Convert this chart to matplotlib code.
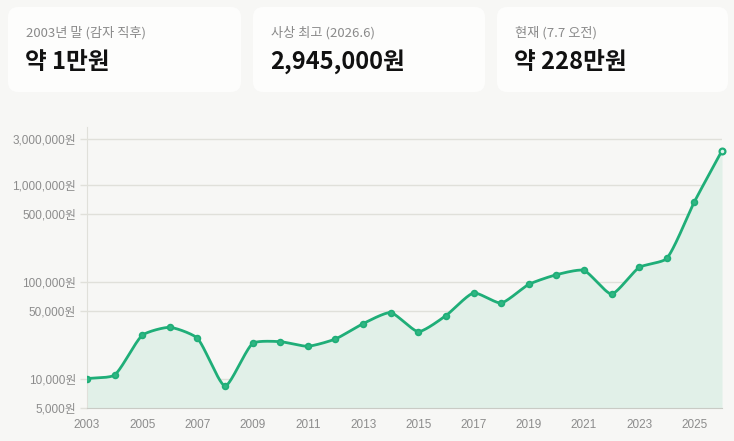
import numpy as np
import matplotlib
matplotlib.use("Agg")
import matplotlib.pyplot as plt
from matplotlib.patches import FancyBboxPatch
from matplotlib.ticker import FixedLocator, FixedFormatter, NullLocator

plt.rcParams['font.family'] = ['Liberation Sans', 'Noto Sans CJK KR', 'DejaVu Sans']

# ---- data ----
years = list(range(2003, 2027))
prices = [10000, 10900, 28000, 33900, 26100, 8400, 23100, 24100, 21600, 25700,
          37000, 48100, 30600, 44800, 76800, 60500, 94200, 118600, 131400, 75000,
          141200, 174900, 674000, 2280000]
ytick_vals = [5000, 10000, 50000, 100000, 500000, 1000000, 3000000]
ytick_labels = [f"{v:,}원" for v in ytick_vals]
xtick_vals = list(range(2003, 2027, 2))
card_labels = ["2003년 말 (감자 직후)", "사상 최고 (2026.6)", "현재 (7.7 오전)"]
card_values = ["약 1만원", "2,945,000원", "약 228만원"]

BG = "#f7f7f5"
GREEN = "#1fae78"
FILL = "#e1f0e8"
GRID = "#e0e0da"
TICK = "#8c8c8c"

W, H = 734, 441
fig = plt.figure(figsize=(W / 100, H / 100), dpi=100, facecolor=BG)

# ---- cards ----
card_x = [(8, 241), (253, 485), (497, 728)]
card_y = (7, 92)
for (x0, x1), lab, val in zip(card_x, card_labels, card_values):
    box = FancyBboxPatch((x0 / W, 1 - card_y[1] / H), (x1 - x0) / W, (card_y[1] - card_y[0]) / H,
                         boxstyle="round,pad=0,rounding_size=0.014", transform=fig.transFigure,
                         facecolor="#fdfdfc", edgecolor="none", mutation_aspect=W / H)
    fig.patches.append(box)
    fig.text((x0 + 18) / W, 1 - 33 / H, lab, fontsize=9.5, color="#8a8a8a",
             family=['Noto Sans CJK KR', 'DejaVu Sans'], va="center", ha="left", fontweight="medium")
    fig.text((x0 + 17) / W, 1 - 62 / H, val, fontsize=17, color="#111111",
             family=['Noto Sans CJK KR', 'DejaVu Sans'], va="center", ha="left", fontweight="bold")

# ---- chart ----
left, right, top, bottom = 87, 722, 127, 407.7
ax = fig.add_axes([left / W, 1 - bottom / H, (right - left) / W, (bottom - top) / H])
ax.set_facecolor(BG)
ax.set_yscale("log")
ax.set_xlim(2003, 2026)
ax.set_ylim(5000, 4.0e6)

# Chart.js-like spline in display space
pts = ax.transData.transform(np.column_stack([years, prices]))
tension = 0.2
n = len(pts)
cp_prev = np.zeros_like(pts)
cp_next = np.zeros_like(pts)
for i in range(n):
    p0 = pts[i - 1] if i > 0 else pts[i]
    p1 = pts[i]
    p2 = pts[i + 1] if i < n - 1 else pts[i]
    d01 = np.hypot(*(p1 - p0))
    d12 = np.hypot(*(p2 - p1))
    s = d01 + d12
    s01 = d01 / s if s else 0
    s12 = d12 / s if s else 0
    cp_prev[i] = p1 - tension * s01 * (p2 - p0)
    cp_next[i] = p1 + tension * s12 * (p2 - p0)
curve = []
t = np.linspace(0, 1, 40)[:, None]
for i in range(n - 1):
    a, b, c, d = pts[i], cp_next[i], cp_prev[i + 1], pts[i + 1]
    seg = (1 - t) ** 3 * a + 3 * (1 - t) ** 2 * t * b + 3 * (1 - t) * t ** 2 * c + t ** 3 * d
    curve.append(seg if i == 0 else seg[1:])
curve = np.vstack(curve)
curve_data = ax.transData.inverted().transform(curve)

ax.fill_between(curve_data[:, 0], curve_data[:, 1], 5000, color=FILL, linewidth=0, zorder=1)
ax.plot(curve_data[:, 0], curve_data[:, 1], color=GREEN, linewidth=2, zorder=3, solid_capstyle="round")
ax.plot(years[:-1], prices[:-1], linestyle="none", marker="o", markersize=4.2,
        markerfacecolor="#2fb783", markeredgecolor=GREEN, markeredgewidth=1.2, zorder=4)
ax.plot(years[-1:], prices[-1:], linestyle="none", marker="o", markersize=4.2,
        markerfacecolor="#dff3ea", markeredgecolor=GREEN, markeredgewidth=1.6, zorder=4, clip_on=False)

ax.yaxis.set_major_locator(FixedLocator(ytick_vals))
ax.yaxis.set_major_formatter(FixedFormatter(ytick_labels))
ax.yaxis.set_minor_locator(NullLocator())
ax.set_xticks(xtick_vals)
ax.set_xticklabels([str(x) for x in xtick_vals])
ax.xaxis.set_minor_locator(NullLocator())
ax.grid(axis="y", color=GRID, linewidth=1, zorder=0)
ax.set_axisbelow(True)
ax.tick_params(axis="y", length=5, width=1, color=GRID, pad=3, labelsize=8.5, labelcolor=TICK)
ax.tick_params(axis="x", length=0, pad=8, labelsize=8.5, labelcolor=TICK)
for s in ["top", "right"]:
    ax.spines[s].set_visible(False)
ax.spines["left"].set_color(GRID)
ax.spines["bottom"].set_color("#c9cbc5")
ax.spines["left"].set_bounds(5000, 4.0e6)

fig.savefig("out.png", dpi=100, facecolor=BG)
